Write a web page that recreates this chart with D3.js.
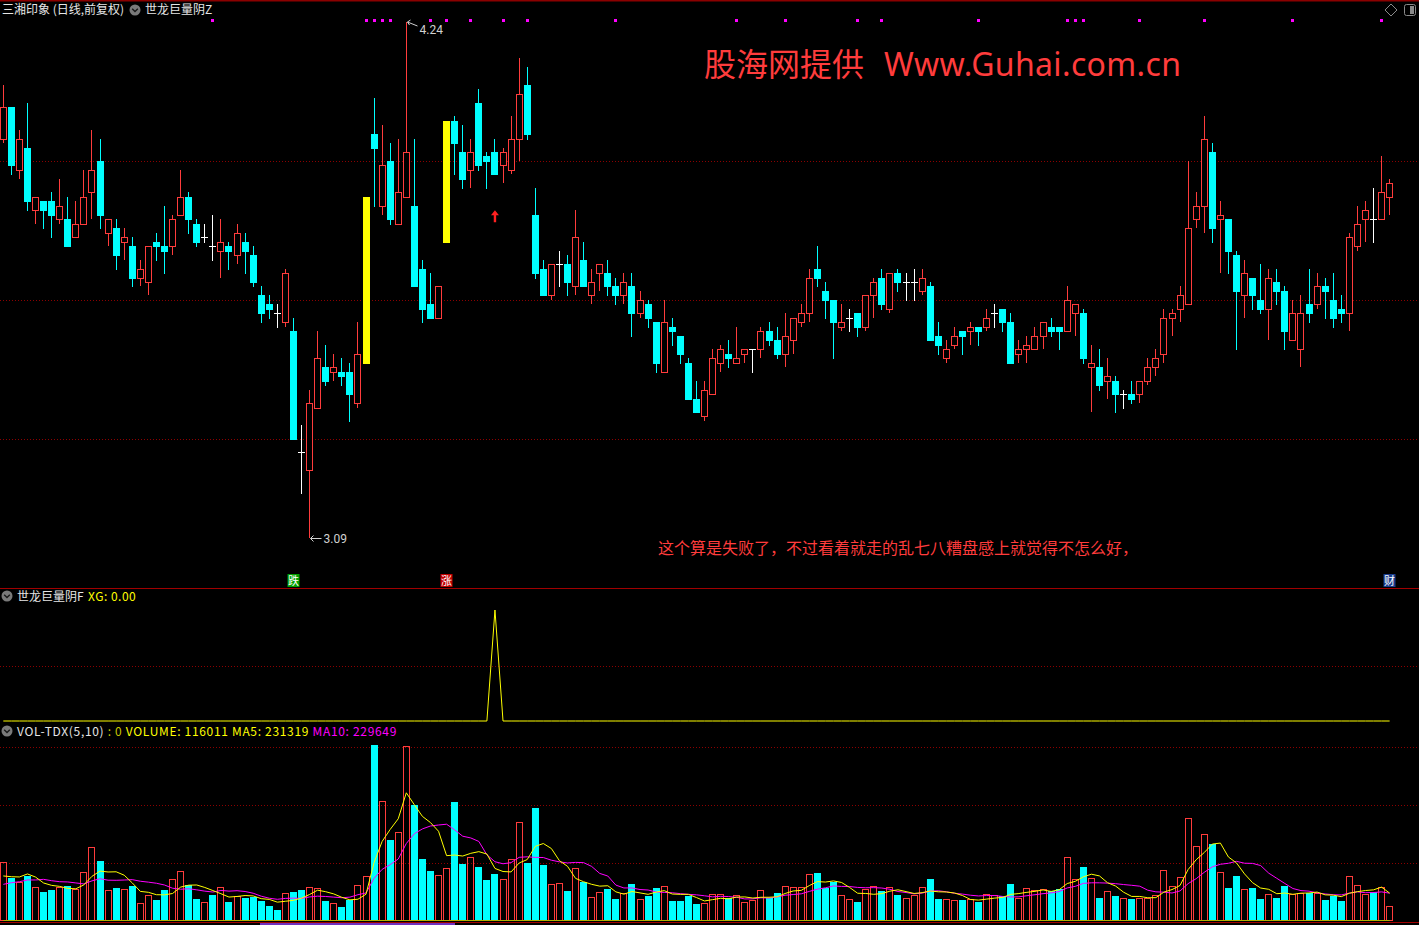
<!DOCTYPE html>
<html><head><meta charset="utf-8">
<script src="https://cdn.jsdelivr.net/npm/d3@7"></script>
<style>html,body{margin:0;padding:0;background:#000;overflow:hidden}svg{display:block}</style>
</head><body><svg id="c" width="1419" height="925"></svg>
<script>
// ---------- DATA ----------
const opens = [3.98,4.05,3.91,3.96,3.82,3.84,3.84,3.80,3.80,3.76,3.79,3.86,3.93,3.77,3.78,3.75,3.74,3.67,3.66,3.75,
3.74,3.74,3.81,3.85,3.79,3.76,3.74,3.73,3.74,3.72,3.75,3.72,3.63,3.61,3.59,3.57,3.55,3.28,3.24,3.38,
3.47,3.46,3.46,3.46,3.39,3.48,3.99,3.83,3.93,3.79,3.85,3.83,3.69,3.61,3.58,3.75,4.02,3.95,3.91,4.06,
3.94,3.95,3.92,3.91,3.98,4.10,3.81,3.69,3.63,3.70,3.70,3.65,3.71,3.63,3.68,3.68,3.65,3.63,3.65,3.59,
3.61,3.57,3.46,3.56,3.54,3.48,3.40,3.36,3.41,3.48,3.50,3.48,3.50,3.51,3.51,3.55,3.53,3.50,3.53,3.57,
3.59,3.69,3.64,3.62,3.56,3.58,3.59,3.56,3.63,3.67,3.60,3.68,3.66,3.66,3.64,3.65,3.54,3.49,3.52,3.55,
3.55,3.56,3.56,3.59,3.60,3.57,3.50,3.51,3.51,3.54,3.56,3.56,3.55,3.59,3.59,3.47,3.47,3.44,3.44,3.41,
3.41,3.41,3.44,3.47,3.50,3.58,3.60,3.61,3.80,3.83,3.95,3.80,3.80,3.72,3.63,3.67,3.62,3.60,3.66,3.64,
3.53,3.51,3.61,3.61,3.65,3.62,3.60,3.59,3.74,3.80,3.80,3.80,3.85];
const highs = [4.10,4.05,4.00,4.06,3.85,3.84,3.86,3.89,3.85,3.84,3.91,4.00,3.98,3.80,3.80,3.78,3.76,3.71,3.74,3.77,
3.83,3.81,3.91,3.86,3.80,3.79,3.81,3.80,3.75,3.79,3.77,3.74,3.65,3.63,3.61,3.69,3.58,3.34,3.42,3.55,
3.52,3.50,3.49,3.48,3.57,3.85,4.07,4.01,3.97,3.98,4.24,3.98,3.71,3.68,3.65,4.02,4.03,4.01,3.98,4.09,
3.95,3.98,3.96,4.03,4.16,4.14,3.87,3.71,3.70,3.73,3.72,3.82,3.75,3.69,3.70,3.71,3.67,3.68,3.68,3.64,
3.62,3.57,3.62,3.58,3.54,3.49,3.44,3.44,3.51,3.52,3.53,3.56,3.51,3.51,3.56,3.57,3.56,3.59,3.58,3.61,
3.69,3.74,3.66,3.62,3.61,3.60,3.59,3.63,3.67,3.69,3.68,3.69,3.68,3.69,3.69,3.66,3.57,3.53,3.56,3.55,
3.57,3.56,3.60,3.61,3.60,3.59,3.53,3.54,3.56,3.57,3.58,3.56,3.65,3.61,3.60,3.52,3.51,3.49,3.45,3.42,
3.44,3.44,3.49,3.51,3.60,3.60,3.65,3.93,3.86,4.03,3.97,3.84,3.80,3.73,3.71,3.67,3.70,3.69,3.69,3.65,
3.62,3.63,3.69,3.68,3.67,3.68,3.63,3.77,3.83,3.84,3.87,3.94,3.89];
const lows = [3.97,3.90,3.89,3.82,3.79,3.78,3.76,3.79,3.74,3.76,3.79,3.80,3.78,3.74,3.69,3.71,3.65,3.65,3.63,3.71,
3.68,3.72,3.81,3.77,3.74,3.75,3.71,3.67,3.69,3.70,3.68,3.65,3.57,3.58,3.56,3.56,3.31,3.19,3.09,3.38,
3.43,3.44,3.43,3.35,3.38,3.48,3.83,3.81,3.79,3.79,3.85,3.65,3.57,3.58,3.58,3.75,3.90,3.87,3.87,3.91,
3.87,3.90,3.88,3.90,3.93,3.98,3.67,3.63,3.62,3.65,3.63,3.63,3.65,3.61,3.64,3.63,3.61,3.61,3.54,3.58,
3.56,3.46,3.46,3.52,3.48,3.40,3.37,3.35,3.41,3.46,3.47,3.48,3.48,3.46,3.49,3.52,3.49,3.47,3.50,3.56,
3.57,3.65,3.58,3.49,3.55,3.55,3.54,3.55,3.58,3.60,3.59,3.64,3.62,3.62,3.63,3.53,3.50,3.48,3.51,3.50,
3.52,3.52,3.55,3.56,3.55,3.48,3.48,3.48,3.51,3.51,3.54,3.51,3.55,3.54,3.48,3.37,3.42,3.40,3.37,3.38,
3.39,3.39,3.43,3.45,3.48,3.54,3.57,3.61,3.78,3.77,3.75,3.68,3.68,3.51,3.58,3.60,3.59,3.53,3.61,3.51,
3.53,3.47,3.57,3.60,3.58,3.56,3.57,3.55,3.73,3.75,3.75,3.80,3.81];
const closes = [4.05,3.92,3.98,3.84,3.85,3.82,3.81,3.83,3.74,3.79,3.85,3.91,3.81,3.80,3.72,3.76,3.67,3.69,3.74,3.74,
3.73,3.80,3.85,3.80,3.75,3.76,3.74,3.75,3.73,3.77,3.73,3.66,3.59,3.60,3.59,3.68,3.31,3.28,3.39,3.49,
3.44,3.47,3.45,3.41,3.50,3.85,3.96,3.92,3.80,3.86,3.95,3.65,3.60,3.58,3.65,4.02,3.97,3.89,3.95,3.92,
3.93,3.90,3.95,3.98,4.08,3.99,3.68,3.63,3.70,3.70,3.66,3.76,3.65,3.66,3.70,3.65,3.63,3.66,3.59,3.62,
3.58,3.48,3.57,3.55,3.50,3.40,3.37,3.42,3.49,3.51,3.49,3.49,3.51,3.51,3.55,3.53,3.50,3.54,3.58,3.59,
3.67,3.67,3.62,3.57,3.57,3.58,3.56,3.63,3.66,3.61,3.68,3.66,3.66,3.66,3.67,3.53,3.52,3.51,3.54,3.54,
3.56,3.55,3.58,3.59,3.57,3.48,3.51,3.52,3.54,3.57,3.55,3.55,3.62,3.61,3.49,3.48,3.43,3.45,3.41,3.41,
3.40,3.44,3.47,3.49,3.58,3.59,3.63,3.78,3.83,3.98,3.78,3.81,3.73,3.64,3.68,3.63,3.60,3.67,3.64,3.55,
3.59,3.59,3.59,3.65,3.64,3.58,3.59,3.76,3.79,3.82,3.80,3.86,3.88];
const volumes = [467000,342000,307000,360000,270000,230000,246000,267000,280000,254000,
387000,587000,478000,243000,262000,251000,278000,139000,206000,166000,
246000,331000,395000,283000,174000,147000,208000,267000,150000,198000,
184000,192000,158000,120000,88000,219000,230000,246000,267000,259000,
158000,142000,110000,166000,283000,358000,1406000,958000,646000,710000,
1398000,926000,494000,398000,363000,422000,950000,454000,507000,430000,
326000,374000,331000,491000,787000,462000,902000,446000,291000,299000,
238000,419000,312000,187000,227000,254000,174000,219000,294000,171000,
198000,262000,278000,158000,158000,198000,134000,142000,211000,211000,
179000,203000,147000,166000,243000,179000,222000,278000,267000,267000,
371000,382000,259000,312000,206000,171000,150000,251000,278000,235000,
267000,206000,179000,203000,267000,334000,174000,171000,163000,166000,
174000,150000,211000,203000,195000,294000,184000,259000,243000,251000,
235000,251000,507000,331000,430000,342000,182000,235000,198000,182000,
174000,182000,182000,203000,403000,275000,347000,819000,595000,691000,
614000,387000,262000,358000,251000,262000,174000,211000,182000,278000,
211000,219000,219000,219000,166000,200000,158000,355000,283000,211000,
227000,267000,116011];
// MA values at the left edge (history before the first visible bar)
const ma5Head = [358000,352000,350000,374000];
const ma10Head = [291000,304000,312000,326000,326000,331000,320000,312000,310000];
const yellowBars = [45,55];          // highlighted signal bars
const signalDots = [26,45,46,47,48,53,55,58,62,65,76,91,97,106,109,121,132,133,134,141,149,160,171];
const xgHits = [61];                  // XG = 1 on these bars, 0 elsewhere
const arrowBar = 61, arrowPrice = 3.82;
const priceGrid = [3.31,3.62,3.93];
const volGrid = [464000,928000,1392000];
const bottomMarks = [{i:36,t:"跌",bg:"#00a000",fg:"#ffffff"},{i:55,t:"涨",bg:"#c00000",fg:"#ffffff"},{i:172,t:"财",bg:"#1a3c8c",fg:"#ffffff"}];

// ---------- DRAW ----------
const W = 1419, H = 925;
const svg = d3.select('#c');
svg.append('rect').attr('width',W).attr('height',H).attr('fill','#000');
const n = closes.length;
const RED = '#ff3c3c', CYAN = '#00ffff', GRIDC = '#8c0000';
const x = d3.scaleBand().domain(d3.range(n)).range([-0.73, -0.73 + 8.06*n]).paddingInner(0.18).paddingOuter(0.09);
const cx = i => x(i) + x.bandwidth()/2;
const leftOf = i => Math.round(cx(i) - 3.5);
const y = d3.scaleLinear().domain([3.09,4.24]).range([537.5,22]);
const vy = d3.scaleLinear().domain([0,1406000]).range([920.7,745]);
const gy = d3.scaleLinear().domain([0,1]).range([721,610]);

function dotted(yy){
  svg.append('line').attr('x1',0).attr('x2',W).attr('y1',Math.round(yy)+0.5).attr('y2',Math.round(yy)+0.5)
    .attr('stroke',GRIDC).attr('stroke-width',1).attr('stroke-dasharray','1,2');
}
priceGrid.forEach(p=>dotted(y(p)));
dotted(gy(0.5));
volGrid.forEach(v=>dotted(vy(v)));

// separators
svg.append('line').attr('x1',0).attr('x2',W).attr('y1',0.5).attr('y2',0.5).attr('stroke','#8b0000').attr('stroke-width',2);
svg.append('line').attr('x1',0).attr('x2',W).attr('y1',588.5).attr('y2',588.5).attr('stroke','#a00000');
svg.append('line').attr('x1',0).attr('x2',W).attr('y1',922.5).attr('y2',922.5).attr('stroke','#a00000');

// candles
const cg = svg.append('g');
d3.range(n).forEach(i=>{
  const o=opens[i], c=closes[i], hi=highs[i], lo=lows[i];
  const left = leftOf(i), wx = left+3.5;
  const top = Math.round(y(Math.max(o,c))), bot = Math.round(y(Math.min(o,c)));
  const yh = Math.round(y(hi)), yl = Math.round(y(lo));
  if (yellowBars.includes(i)) {
    cg.append('rect').attr('x',left).attr('y',top).attr('width',7).attr('height',bot-top+1).attr('fill','#ffff00');
    return;
  }
  if (c>o) {
    if (yh<top) cg.append('line').attr('x1',wx).attr('x2',wx).attr('y1',yh).attr('y2',top).attr('stroke',RED);
    if (yl>bot) cg.append('line').attr('x1',wx).attr('x2',wx).attr('y1',bot+1).attr('y2',yl).attr('stroke',RED);
    cg.append('rect').attr('x',left+0.5).attr('y',top+0.5).attr('width',6).attr('height',Math.max(1,bot-top))
      .attr('fill','#000').attr('stroke',RED);
  } else if (c<o) {
    cg.append('line').attr('x1',wx).attr('x2',wx).attr('y1',yh).attr('y2',yl+1).attr('stroke',CYAN);
    cg.append('rect').attr('x',left).attr('y',top).attr('width',7).attr('height',Math.max(2,bot-top+1)).attr('fill',CYAN);
  } else {
    cg.append('line').attr('x1',wx).attr('x2',wx).attr('y1',yh).attr('y2',yl+1).attr('stroke','#fff');
    cg.append('line').attr('x1',left).attr('x2',left+7).attr('y1',top+0.5).attr('y2',top+0.5).attr('stroke','#fff');
  }
});

// signal dots
svg.append('g').selectAll('rect').data(signalDots).join('rect')
  .attr('x',i=>Math.round(cx(i)-1.5)).attr('y',19).attr('width',3).attr('height',3).attr('fill','#ff00ff');

// red arrow
{
  const ax = cx(arrowBar), ay = y(arrowPrice);
  svg.append('path').attr('d',`M${ax},${ay} L${ax-4},${ay+5} L${ax-1.2},${ay+5} L${ax-1.2},${ay+12} L${ax+1.2},${ay+12} L${ax+1.2},${ay+5} L${ax+4},${ay+5} Z`).attr('fill','#ff2020');
}

// high / low labels
{
  const hiIdx = d3.maxIndex(highs), loIdx = d3.minIndex(lows);
  const hx = leftOf(hiIdx)+3.5, hy = y(highs[hiIdx]);
  svg.append('path').attr('d',`M${hx+1},${hy} L${hx+11},${hy+4} M${hx+1},${hy} l3,-2 M${hx+1},${hy} l2,3`).attr('stroke','#d0d0d0').attr('fill','none');
  svg.append('text').attr('x',hx+13).attr('y',hy+11.5).text(highs[hiIdx].toFixed(2))
    .attr('fill','#d0d0d0').attr('font-family','Roboto, Arial, sans-serif').attr('font-size',12);
  const lx = leftOf(loIdx)+3.5, ly = Math.round(y(lows[loIdx]))+0.5;
  svg.append('path').attr('d',`M${lx+1},${ly} L${lx+12},${ly} M${lx+1},${ly} l3,-3 M${lx+1},${ly} l3,3`).attr('stroke','#d0d0d0').attr('fill','none');
  svg.append('text').attr('x',lx+14).attr('y',ly+4.5).text(lows[loIdx].toFixed(2))
    .attr('fill','#d0d0d0').attr('font-family','Roboto, Arial, sans-serif').attr('font-size',12);
}

// bottom marks in main panel
bottomMarks.forEach(m=>{
  const l = leftOf(m.i)-2.5;
  svg.append('rect').attr('x',l).attr('y',574).attr('width',12).attr('height',13).attr('fill',m.bg);
  svg.append('text').attr('x',l+6).attr('y',585).attr('text-anchor','middle').text(m.t)
    .attr('fill',m.fg).attr('font-family','"Noto Sans CJK SC", sans-serif').attr('font-size',11);
});

// XG panel line
const xg = d3.range(n).map(i => xgHits.includes(i) ? 1 : 0);
svg.append('path').datum(xg).attr('d',d3.line().x((d,i)=>cx(i)).y(d=>gy(d)))
  .attr('fill','none').attr('stroke','#ffff00').attr('stroke-width',1);

// volume bars
const vg = svg.append('g');
d3.range(n).forEach(i=>{
  const o=opens[i], c=closes[i];
  const up = c>o || (c===o && (i===0 || c>=closes[i-1]));
  const left = leftOf(i), top = Math.round(vy(volumes[i]));
  if (up) vg.append('rect').attr('x',left+0.5).attr('y',top+0.5).attr('width',6).attr('height',920-top).attr('fill','none').attr('stroke',RED);
  else vg.append('rect').attr('x',left).attr('y',top).attr('width',7).attr('height',921-top).attr('fill',CYAN);
});
// VOL-TDX zero line
svg.append('line').attr('x1',cx(0)).attr('x2',cx(n-1)).attr('y1',920.5).attr('y2',920.5).attr('stroke','#b0b000');

function ma(period, head){
  return d3.range(n).map(i => i < head.length ? head[i] : d3.mean(volumes.slice(i-period+1,i+1)));
}
const ma5 = ma(5, ma5Head), ma10 = ma(10, ma10Head);
const vline = d3.line().x((d,i)=>cx(i)).y(d=>vy(d));
svg.append('path').datum(ma10).attr('d',vline).attr('fill','none').attr('stroke','#ff00ff').attr('stroke-width',1);
svg.append('path').datum(ma5).attr('d',vline).attr('fill','none').attr('stroke','#ffff00').attr('stroke-width',1);

// ---------- TEXT ----------
const CJK = '"Noto Sans CJK SC", "Microsoft YaHei", sans-serif';
function icon(xc, yc){
  svg.append('circle').attr('cx',xc).attr('cy',yc).attr('r',5.5).attr('fill','#7a7a7a');
  svg.append('path').attr('d',`M${xc-2.8},${yc-1.2} L${xc},${yc+1.6} L${xc+2.8},${yc-1.2}`).attr('stroke','#1a1a1a').attr('stroke-width',1.4).attr('fill','none');
}
function txt(xx, yy, s, color, size, fam){
  return svg.append('text').attr('x',xx).attr('y',yy).text(s).attr('fill',color)
    .attr('font-size',size||12).attr('font-family',fam||CJK);
}
txt(2,14,'三湘印象 (日线,前复权)','#e6e6e6',12);
icon(135,10);
txt(145,14,'世龙巨量阴Z','#e6e6e6',12);

icon(7,596);
txt(17,600.5,'世龙巨量阴F','#e6e6e6',12);
txt(88,600.5,'XG: 0.00','#ffff00',12).attr('letter-spacing',0.5);

icon(7,731);
{
  const t = svg.append('text').attr('x',17).attr('y',735.5).attr('font-size',12).attr('font-family',CJK).attr('letter-spacing',0.68);
  t.append('tspan').text('VOL-TDX(5,10) ').attr('fill','#e6e6e6');
  t.append('tspan').text(': 0 ').attr('fill','#c8c800');
  t.append('tspan').text('VOLUME: ' + volumes[n-1] + ' ').attr('fill','#ffff00');
  t.append('tspan').text('MA5: 231319 ').attr('fill','#ffff00');
  t.append('tspan').text('MA10: 229649').attr('fill','#ff00ff');
}

// watermark
txt(704,76,'股海网提供','#ff3c3c',32);
txt(884,76,'Www.Guhai.com.cn','#ff3c3c',32,'"Noto Sans", "Open Sans", sans-serif').attr('letter-spacing',0.35);

// annotation
txt(658,554,'这个算是失败了，不过看着就走的乱七八糟盘感上就觉得不怎么好，','#ff3c3c',16);

// top-right icons
svg.append('path').attr('d','M1391,4 L1397,10 L1391,16 L1385,10 Z').attr('fill','none').attr('stroke','#8a8a8a');
svg.append('rect').attr('x',1404.5).attr('y',4.5).attr('width',11).attr('height',11).attr('rx',2).attr('fill','none').attr('stroke','#8a8a8a');
svg.append('rect').attr('x',1410).attr('y',6).attr('width',4).attr('height',8).attr('fill','#8a8a8a');

// bottom scrollbar
svg.append('rect').attr('x',260).attr('y',923).attr('width',195).attr('height',2).attr('fill','#7030c0');
</script></body></html>
